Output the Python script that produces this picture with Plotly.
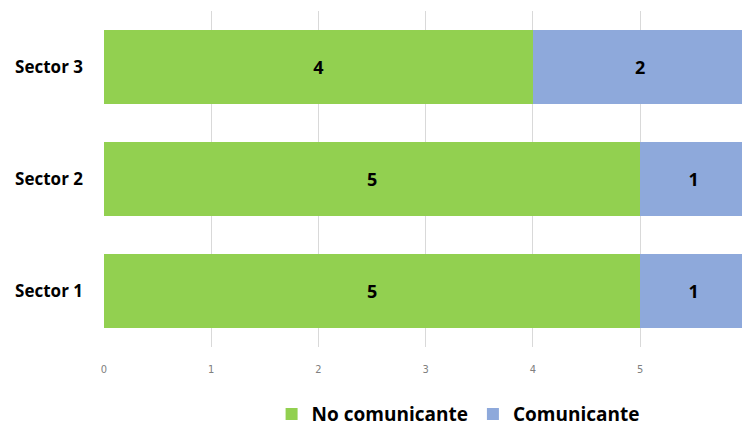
import plotly.graph_objects as go

sectors = ["Sector 1", "Sector 2", "Sector 3"]
no_comunicante = [5, 5, 4]
comunicante = [1, 1, 2]
x_ticks = [0, 1, 2, 3, 4, 5]

label_font = dict(family="Open Sans", size=18, color="black", weight="bold")

fig = go.Figure()
fig.add_trace(go.Bar(
    y=sectors, x=no_comunicante, orientation="h", name="No comunicante",
    marker=dict(color="#92D050", line=dict(width=0)),
    text=no_comunicante, textposition="inside", insidetextanchor="middle",
    textfont=label_font,
))
fig.add_trace(go.Bar(
    y=sectors, x=comunicante, orientation="h", name="Comunicante",
    marker=dict(color="#8EA9DB", line=dict(width=0)),
    text=comunicante, textposition="inside", insidetextanchor="middle",
    textfont=label_font,
))

fig.update_layout(
    barmode="stack",
    bargap=0.34,
    width=742, height=426,
    margin=dict(l=104, r=0, t=11, b=79, autoexpand=False),
    paper_bgcolor="white",
    plot_bgcolor="white",
    legend=dict(
        orientation="h", x=0.555, xanchor="center", y=-0.2, yanchor="middle",
        font=dict(family="Open Sans", size=19, color="black", weight="bold"),
        traceorder="normal",
    ),
    xaxis=dict(
        range=[0, 5.95], tickvals=x_ticks, showgrid=True, gridcolor="#d9d9d9",
        gridwidth=1, zeroline=False, showline=False,
        tickfont=dict(family="Liberation Sans Narrow, DejaVu Sans Condensed", size=11, color="#808080"),
        ticklabelstandoff=14,
    ),
    yaxis=dict(
        showgrid=False, zeroline=False, showline=False,
        tickfont=dict(family="Open Sans", size=17, color="black", weight="bold"),
        ticklabelstandoff=20,
    ),
)

# page margin off so the figure sits at the window's top-left corner
fig.write_html("out.html", config={"displayModeBar": False},
               post_script="document.body.style.margin='0';document.body.style.overflow='hidden';")
